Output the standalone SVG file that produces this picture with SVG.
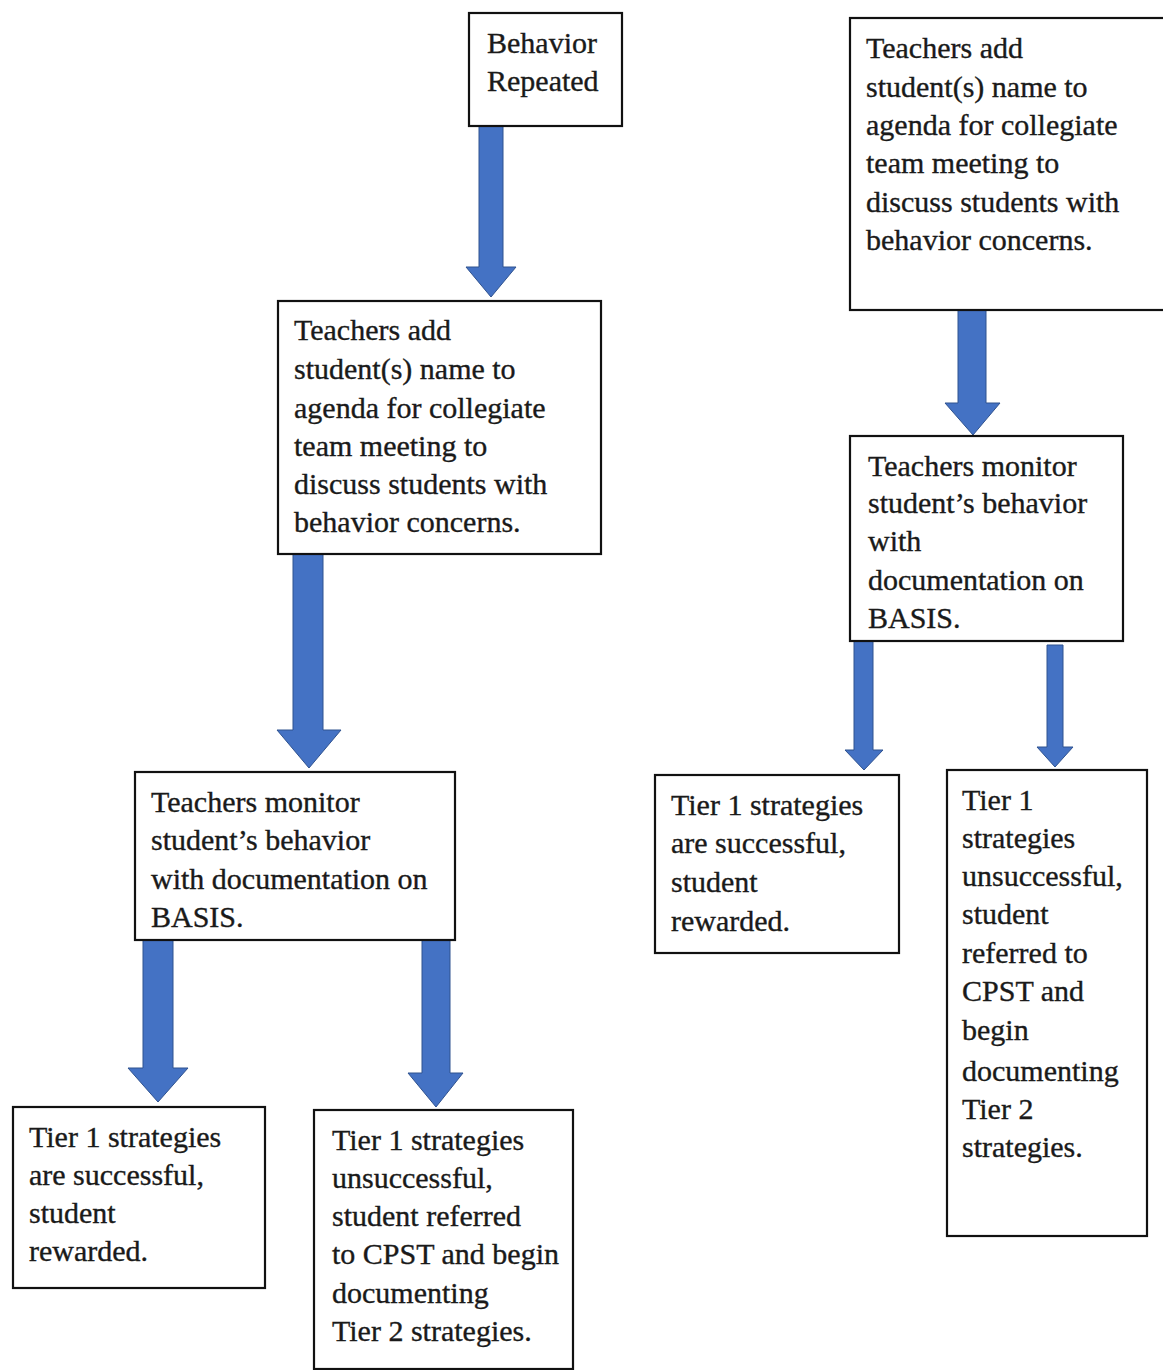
<svg xmlns="http://www.w3.org/2000/svg" width="1163" height="1370" viewBox="0 0 1163 1370">
<style>
.box{fill:#fff;stroke:#111;stroke-width:2.2}
.t{font-family:"Liberation Serif","Times New Roman",serif;font-size:30px;fill:#1a1a1a;stroke:#1a1a1a;stroke-width:0.35}
.arr{fill:#4472C4;stroke:#2F528F;stroke-width:1;stroke-linejoin:miter}
</style>
<rect width="1163" height="1370" fill="#fff"/>
<g id="connectors">
<path class="arr" d="M479,126 H503 V267 H516 L491,297 L466,267 H479 Z"/>
<path class="arr" d="M293,554 H323 V730 H341 L309,768 L277,730 H293 Z"/>
<path class="arr" d="M143,940 H173 V1068 H188 L158,1102 L128,1068 H143 Z"/>
<path class="arr" d="M422,940 H450 V1073 H463 L436,1107 L408,1073 H422 Z"/>
<path class="arr" d="M958,310 H986 V403 H1000 L973,435 L945,403 H958 Z"/>
<path class="arr" d="M854,641 H873 V750 H883 L864,770 L845,750 H854 Z"/>
<path class="arr" d="M1047,645 H1063 V747 H1073 L1055,767 L1037,747 H1047 Z"/>
</g>
<g id="node-behavior-repeated">
<rect class="box" x="469" y="13" width="153" height="113"/>
<text class="t" x="487" y="53">Behavior</text>
<text class="t" x="487" y="91">Repeated</text>
</g>
<g id="node-agenda-left">
<rect class="box" x="278" y="301" width="323" height="253"/>
<text class="t" x="294" y="340">Teachers add</text>
<text class="t" x="294" y="379">student(s) name to</text>
<text class="t" x="294" y="418">agenda for collegiate</text>
<text class="t" x="294" y="456">team meeting to</text>
<text class="t" x="294" y="494">discuss students with</text>
<text class="t" x="294" y="532">behavior concerns.</text>
</g>
<g id="node-monitor-left">
<rect class="box" x="135" y="772" width="320" height="168"/>
<text class="t" x="151" y="812">Teachers monitor</text>
<text class="t" x="151" y="850">student’s behavior</text>
<text class="t" x="151" y="889">with documentation on</text>
<text class="t" x="151" y="927">BASIS.</text>
</g>
<g id="node-success-left">
<rect class="box" x="13" y="1107" width="252" height="181"/>
<text class="t" x="29" y="1147">Tier 1 strategies</text>
<text class="t" x="29" y="1185">are successful,</text>
<text class="t" x="29" y="1223">student</text>
<text class="t" x="29" y="1261">rewarded.</text>
</g>
<g id="node-unsuccess-left">
<rect class="box" x="314" y="1110" width="259" height="259"/>
<text class="t" x="332" y="1150">Tier 1 strategies</text>
<text class="t" x="332" y="1188">unsuccessful,</text>
<text class="t" x="332" y="1226">student referred</text>
<text class="t" x="332" y="1264">to CPST and begin</text>
<text class="t" x="332" y="1303">documenting</text>
<text class="t" x="332" y="1341">Tier 2 strategies.</text>
</g>
<g id="node-agenda-right">
<rect class="box" x="850" y="18" width="315" height="292"/>
<text class="t" x="866" y="58">Teachers add</text>
<text class="t" x="866" y="97">student(s) name to</text>
<text class="t" x="866" y="135">agenda for collegiate</text>
<text class="t" x="866" y="173">team meeting to</text>
<text class="t" x="866" y="212">discuss students with</text>
<text class="t" x="866" y="250">behavior concerns.</text>
</g>
<g id="node-monitor-right">
<rect class="box" x="850" y="436" width="273" height="205"/>
<text class="t" x="868" y="476">Teachers monitor</text>
<text class="t" x="868" y="513">student’s behavior</text>
<text class="t" x="868" y="551">with</text>
<text class="t" x="868" y="590">documentation on</text>
<text class="t" x="868" y="628">BASIS.</text>
</g>
<g id="node-success-right">
<rect class="box" x="655" y="775" width="244" height="178"/>
<text class="t" x="671" y="815">Tier 1 strategies</text>
<text class="t" x="671" y="853">are successful,</text>
<text class="t" x="671" y="892">student</text>
<text class="t" x="671" y="931">rewarded.</text>
</g>
<g id="node-unsuccess-right">
<rect class="box" x="947" y="770" width="200" height="466"/>
<text class="t" x="962" y="810">Tier 1</text>
<text class="t" x="962" y="848">strategies</text>
<text class="t" x="962" y="886">unsuccessful,</text>
<text class="t" x="962" y="924">student</text>
<text class="t" x="962" y="963">referred to</text>
<text class="t" x="962" y="1001">CPST and</text>
<text class="t" x="962" y="1040">begin</text>
<text class="t" x="962" y="1081">documenting</text>
<text class="t" x="962" y="1119">Tier 2</text>
<text class="t" x="962" y="1157">strategies.</text>
</g>
</svg>
